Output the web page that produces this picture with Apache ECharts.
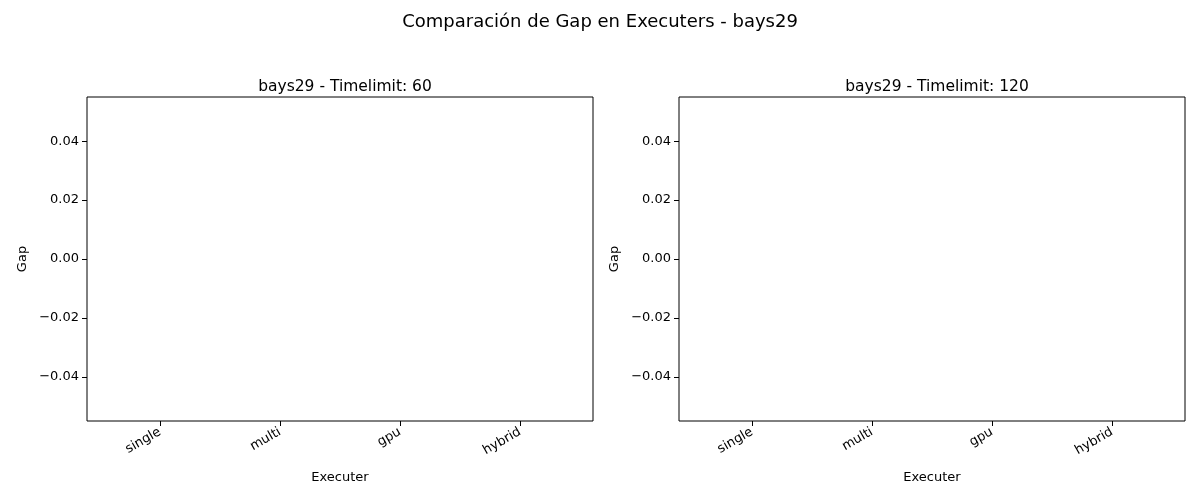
<!DOCTYPE html>
<html><head><meta charset="utf-8">
<script src="https://cdn.jsdelivr.net/npm/echarts@6/dist/echarts.min.js"></script>
<style>html,body{margin:0;padding:0;background:#fff}#c{width:1200px;height:500px}</style>
</head><body><div id="c"></div>
<script>
const categories = ['single','multi','gpu','hybrid'];
const gap60 = [-0.0000001,-0.0000001,-0.0000001,-0.0000001];
const gap120 = [-0.0000001,-0.0000001,-0.0000001,-0.0000001];
const yTicks = [-0.04,-0.02,0,0.02,0.04];
const titles = ['bays29 - Timelimit: 60','bays29 - Timelimit: 120'];
const F = 'DejaVu Sans';
const grids = [{left:87,top:97,width:506,height:324},{left:679,top:97,width:506,height:324}];
const chart = echarts.init(document.getElementById('c'));
const xAxes = [], yAxes = [], series = [];
[gap60, gap120].forEach((vals,i)=>{
  xAxes.push({type:'value',gridIndex:i,min:-0.608,max:3.608,name:'Executer',nameLocation:'middle',nameGap:50,
    nameTextStyle:{fontFamily:F,fontSize:13,color:'#000'},
    axisLine:{show:false,onZero:false},splitLine:{show:false},
    axisTick:{show:true,customValues:[0,1,2,3],length:5,lineStyle:{color:'#000'}},
    axisLabel:{customValues:[0,1,2,3],rotate:30,margin:10,fontFamily:F,fontSize:13,color:'#000',formatter:v=>categories[Math.round(v)]}});
  yAxes.push({type:'value',gridIndex:i,min:-0.055,max:0.055,name:'Gap',nameLocation:'middle',nameGap:58,
    nameTextStyle:{fontFamily:F,fontSize:13,color:'#000'},
    axisLine:{show:false,onZero:false},splitLine:{show:false},
    axisTick:{show:true,customValues:yTicks,length:5,lineStyle:{color:'#000'}},
    axisLabel:{customValues:yTicks,fontFamily:F,fontSize:13,color:'#000',formatter:v=>v<0?'\u2212'+Math.abs(v).toFixed(2):v.toFixed(2)}});
  series.push({type:'bar',xAxisIndex:i,yAxisIndex:i,barWidth:96,data:vals.map((v,k)=>[k,v]),
    itemStyle:{color:'#1f77b4',opacity:0},
    label:{show:true,position:'top',distance:1,fontFamily:F,fontSize:11,color:'#000',formatter:p=>p.value[1].toFixed(2)}});
});
chart.setOption({
  animation:false,
  title:[{text:'Comparación de Gap en Executers - bays29',left:'center',top:8,textStyle:{fontFamily:F,fontSize:18,fontWeight:'normal',color:'#000'}},
    {text:titles[0],left:340,textAlign:'center',top:74,textStyle:{fontFamily:F,fontSize:15.5,fontWeight:'normal',color:'#000'}},
    {text:titles[1],left:932,textAlign:'center',top:74,textStyle:{fontFamily:F,fontSize:15.5,fontWeight:'normal',color:'#000'}}],
  grid:grids.map(g=>Object.assign({show:true,borderColor:'#000',borderWidth:1,backgroundColor:'transparent'},g)),
  xAxis:xAxes,yAxis:yAxes,series:series
});
</script></body></html>
